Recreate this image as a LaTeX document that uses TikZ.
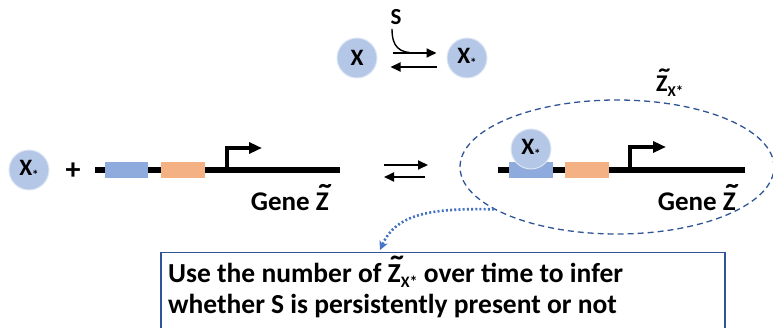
\documentclass[tikz,border=0pt]{standalone}
\usepackage{fontspec}
\usepackage{graphicx}
\setmainfont{Carlito}
\usetikzlibrary{shapes.geometric,arrows.meta}

\definecolor{molblue}{RGB}{180,199,231}
\definecolor{siteblue}{RGB}{143,170,220}
\definecolor{siteorange}{RGB}{244,177,131}
\definecolor{ellblue}{RGB}{47,85,151}
\definecolor{dotblue}{RGB}{68,114,196}
\definecolor{noteblue}{RGB}{47,85,151}

% Z with a wide tilde set above it
\newcommand{\Ztil}{\ooalign{Z\cr\hidewidth\kern0.2em\raisebox{0.15em}{\scalebox{1.5}[1.2]{\char"02DC}}\hidewidth\cr}}
% activated species: X with a small lowered star
\newcommand{\Xact}{X\raisebox{-4pt}{\fontsize{13}{13}\selectfont *}}
% bound gene complex label
\newcommand{\Zbound}[1]{\Ztil\raisebox{-5pt}{\fontsize{#1}{#1}\selectfont X*}}

\tikzset{
  mol/.style={circle, fill=molblue, draw=molblue!45!white, line width=1pt,
    minimum size=40pt, inner sep=0pt, font=\fontsize{23.5}{23.5}\selectfont\bfseries},
  site/.style={rectangle, minimum width=44pt, minimum height=16pt, inner sep=0pt},
  dnaline/.style={line width=6.5pt},
  prom/.style={line width=3.5pt, line join=miter,
    -{Triangle[length=13pt,width=11pt]}},
  rxn/.style={line width=1.8pt, -{Triangle[length=10pt,width=9pt]}},
  genefont/.style={inner sep=0pt, font=\fontsize{27}{27}\selectfont\bfseries},
  notefont/.style={inner sep=0pt, font=\fontsize{27.5}{30}\selectfont\bfseries},
}

\begin{document}
\begin{tikzpicture}[x=1pt,y=-1pt]
\useasboundingbox (0,0) rectangle (773,328);
\clip (0,0) rectangle (773,328);

% ---- activation of X by S ----
\node[mol] (xa) at (357,58) {X};
\node[mol] (xb) at (467,58) {\Xact};
\node[inner sep=0pt, font=\fontsize{23}{23}\selectfont\bfseries] (s) at (396,17) {S};
\draw[rxn] ([xshift=15pt,yshift=5pt]xa.east) -- ([xshift=-10pt,yshift=5pt]xb.west);
\draw[rxn] ([xshift=-10pt,yshift=-9pt]xb.west) -- ([xshift=13pt,yshift=-9pt]xa.east);
\draw[line width=1.4pt] ([xshift=-4pt,yshift=-4pt]s.south)
  .. controls (392,47) and (399,53) .. (416,53);

% ---- free gene ----
\node[mol] (xl) at (29,170) {\Xact};
\node[inner sep=0pt, font=\fontsize{30}{30}\selectfont\bfseries] (plus) at (73,171) {+};
\draw[dnaline] (95,170) -- (340,170);
\node[site, fill=siteblue, minimum width=43pt] (bsl) at (126.5,170) {};
\node[site, fill=siteorange] (osl) at (183,170) {};
\draw[prom] (227,170) |- (262,148);
\node[genefont, anchor=base east] (genel) at (329,211) {Gene \Ztil};

% ---- binding equilibrium ----
\coordinate (eqa) at (384,165);
\coordinate (eqb) at (428,165);
\coordinate (eqc) at (425,177);
\coordinate (eqd) at (384,177);
\draw[rxn] (eqa) -- (eqb);
\draw[rxn] (eqc) -- (eqd);

% ---- bound gene ----
\node[ellipse, draw=ellblue, dashed, dash pattern=on 6pt off 4pt, line width=1.3pt,
  minimum width=314pt, minimum height=134pt, inner sep=0pt] (cplx) at (617,167) {};
\draw[dnaline] (498,170) -- (745,170);
\node[site, fill=siteblue] (bsr) at (531,170) {};
\node[site, fill=siteorange] (osr) at (587,170) {};
\node[mol] (xr) at (531,149) {\Xact};
\draw[prom] (630,170) |- (666,147);
\node[genefont, anchor=base east] (gener) at (736,211) {Gene \Ztil};
\node[inner sep=0pt, anchor=base west, font=\fontsize{24}{24}\selectfont\bfseries]
  (cplxlab) at (656,92) {\Zbound{15}};

% ---- readout note ----
\node[draw=noteblue, line width=1.5pt, anchor=north west, minimum width=564pt,
  minimum height=100pt, inner sep=0pt] (note) at (160,252) {};
\node[notefont, anchor=base west] (line1) at (168,283)
  {Use the number of \Zbound{16} over time to infer};
\node[notefont, anchor=base west] (line2) at (168,313)
  {whether S is persistently present or not};

\coordinate (tip) at (380,250);
\draw[dotblue, line width=2.6pt, dash pattern=on 2pt off 2.2pt,
  -{Stealth[length=9pt,width=9pt]}]
  (cplx.199) .. controls (430,208) and (396,214) .. (tip);
\end{tikzpicture}
\end{document}
